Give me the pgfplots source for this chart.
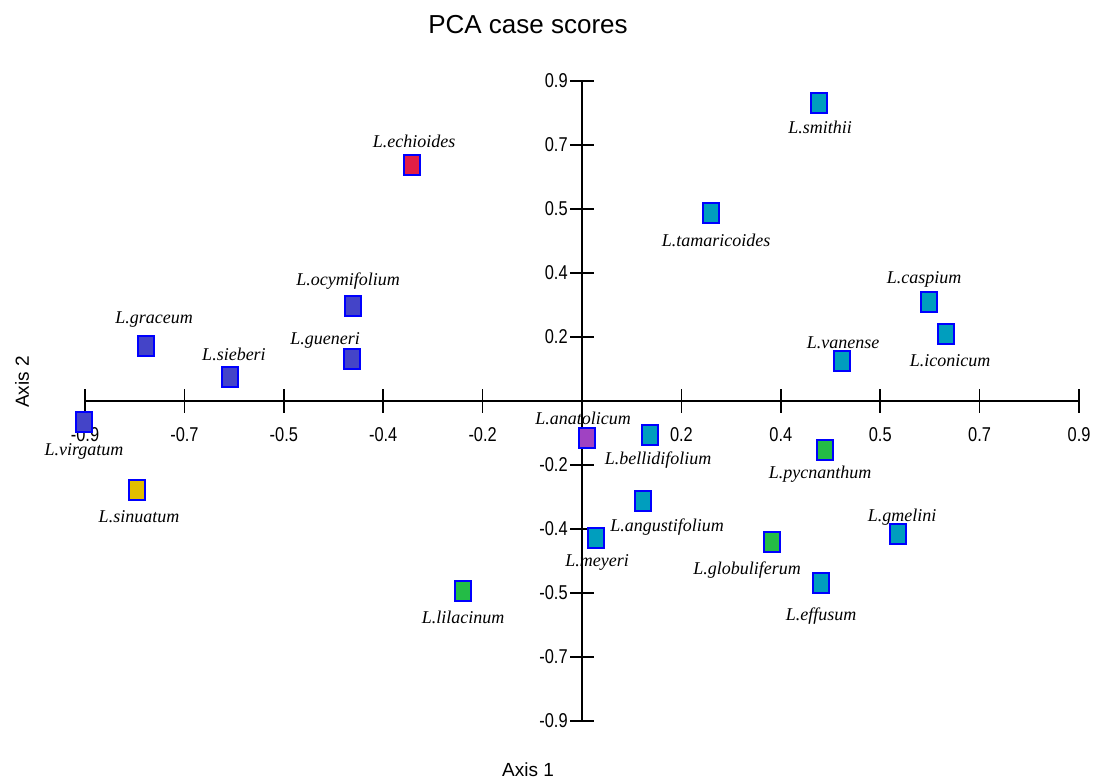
\documentclass[border=0pt]{standalone}
\usepackage{fontspec}
\setmainfont{Liberation Serif}
\setsansfont{Liberation Sans}
\usepackage{pgfplots}
\pgfplotsset{compat=1.18}
\usepackage{pgfplotstable}

\definecolor{dbcol}{RGB}{68,68,200}
\definecolor{cycol}{RGB}{0,158,190}
\definecolor{rdcol}{RGB}{226,30,70}
\definecolor{grcol}{RGB}{36,188,70}
\definecolor{yecol}{RGB}{226,190,0}
\definecolor{pucol}{RGB}{160,66,194}

% 1 px of the reference = 0.5pt
\pgfdeclareplotmark{pcarect}{%
  \pgfpathrectangle{\pgfqpoint{-4pt}{-5pt}}{\pgfqpoint{8pt}{10pt}}%
  \pgfusepathqfillstroke}

\newcommand{\tl}[1]{\scalebox{0.82}[1]{#1}}

% x, y: case scores; dx, dy: label offset in px (dy downwards)
\pgfplotstableread{
x        y        dx   dy   label
-0.4147  0.2672   -5  -25   L.ocymifolium
-0.4165  0.1181  -27  -19   L.gueneri
-0.7896  0.1547    8  -26   L.graceum
-0.6375  0.0675    4  -23   L.sieberi
-0.9018 -0.0591    0   29   L.virgatum
}\darkblue
\pgfplotstableread{
x        y        dx   dy   label
 0.4292  0.8381    1   24   L.smithii
 0.2336  0.5287    5   27   L.tamaricoides
 0.6284  0.2784   -5  -23   L.caspium
 0.6592  0.1884    4   27   L.iconicum
 0.4708  0.1125    1  -18   L.vanense
 0.1231 -0.0956    8   25   L.bellidifolium
 0.1105 -0.2812   24   26   L.angustifolium
 0.0254 -0.3853    1   25   L.meyeri
 0.5723 -0.3741    4  -17   L.gmelini
 0.4328 -0.5119    0   33   L.effusum
}\cyan
\pgfplotstableread{
x        y        dx   dy   label
 0.4401 -0.1378   -5   24   L.pycnanthum
 0.3441 -0.3966  -25   28   L.globuliferum
-0.2155 -0.5344    0   26   L.lilacinum
}\green
\pgfplotstableread{
x        y        dx   dy   label
-0.3079  0.6637    2  -24   L.echioides
}\red
\pgfplotstableread{
x        y        dx   dy   label
-0.8059 -0.2503    2   27   L.sinuatum
}\yellow
\pgfplotstableread{
x        y        dx   dy   label
 0.0091 -0.1041   -4  -20   L.anatolicum
}\purple

\pgfplotsset{
  casepts/.style={
    only marks,
    mark=pcarect,
    mark options={draw=blue, fill=#1, line width=0.6pt},
    point meta=explicit symbolic,
    visualization depends on={\thisrow{dx} \as \dx},
    visualization depends on={\thisrow{dy} \as \dy},
    nodes near coords,
    nodes near coords style={anchor=center, inner sep=0pt,
      font=\itshape\fontsize{9}{10}\selectfont, text=black,
      xshift={\dx*0.5pt}, yshift={-\dy*0.5pt}},
  },
}

\begin{document}
\begin{tikzpicture}
\begin{axis}[
    scale only axis,
    width=497pt, height=320pt,
    xmin=-0.9, xmax=0.9,
    ymin=-0.9, ymax=0.9,
    axis lines=middle,
    axis line style={-, line width=0.8pt},
    clip=false,
    xtick={-0.9,-0.72,-0.54,-0.36,-0.18,0.18,0.36,0.54,0.72,0.9},
    xticklabels={\tl{-0.9},\tl{-0.7},\tl{-0.5},\tl{-0.4},\tl{-0.2},\tl{0.2},\tl{0.4},\tl{0.5},\tl{0.7},\tl{0.9}},
    ytick={-0.9,-0.72,-0.54,-0.36,-0.18,0.18,0.36,0.54,0.72,0.9},
    yticklabels={\tl{-0.9},\tl{-0.7},\tl{-0.5},\tl{-0.4},\tl{-0.2},\tl{0.2},\tl{0.4},\tl{0.5},\tl{0.7},\tl{0.9}},
    tick align=center,
    major tick length=12pt,
    tick style={line width=0.8pt, black},
    /pgf/number format/assume math mode=true,
    ticklabel style={font=\sffamily\fontsize{10}{12}\selectfont, inner sep=0pt},
    xticklabel style={anchor=center, yshift=-11pt},
    yticklabel style={anchor=east, xshift=-1pt},
]
  \addplot[casepts=dbcol] table[x=x, y=y, meta=label] {\darkblue};
  \addplot[casepts=cycol] table[x=x, y=y, meta=label] {\cyan};
  \addplot[casepts=grcol] table[x=x, y=y, meta=label] {\green};
  \addplot[casepts=rdcol] table[x=x, y=y, meta=label] {\red};
  \addplot[casepts=yecol] table[x=x, y=y, meta=label] {\yellow};
  \addplot[casepts=pucol] table[x=x, y=y, meta=label] {\purple};

  \node[font=\sffamily\fontsize{13}{15}\selectfont]
    at (axis cs:-0.0978,1.0575) {PCA case scores};
  \node[font=\sffamily\fontsize{9.5}{11}\selectfont]
    at (axis cs:-0.0978,-1.0378) {Axis 1};
  \node[font=\sffamily\fontsize{9.5}{11}\selectfont, rotate=90]
    at (axis cs:-1.0141,0.0534) {Axis 2};

  \coordinate (bl) at (axis cs:-1.0540,-1.0715);
  \coordinate (tr) at (axis cs:0.9380,1.1277);
\end{axis}
\pgfresetboundingbox
\path (bl) rectangle (tr);
\end{tikzpicture}
\end{document}
